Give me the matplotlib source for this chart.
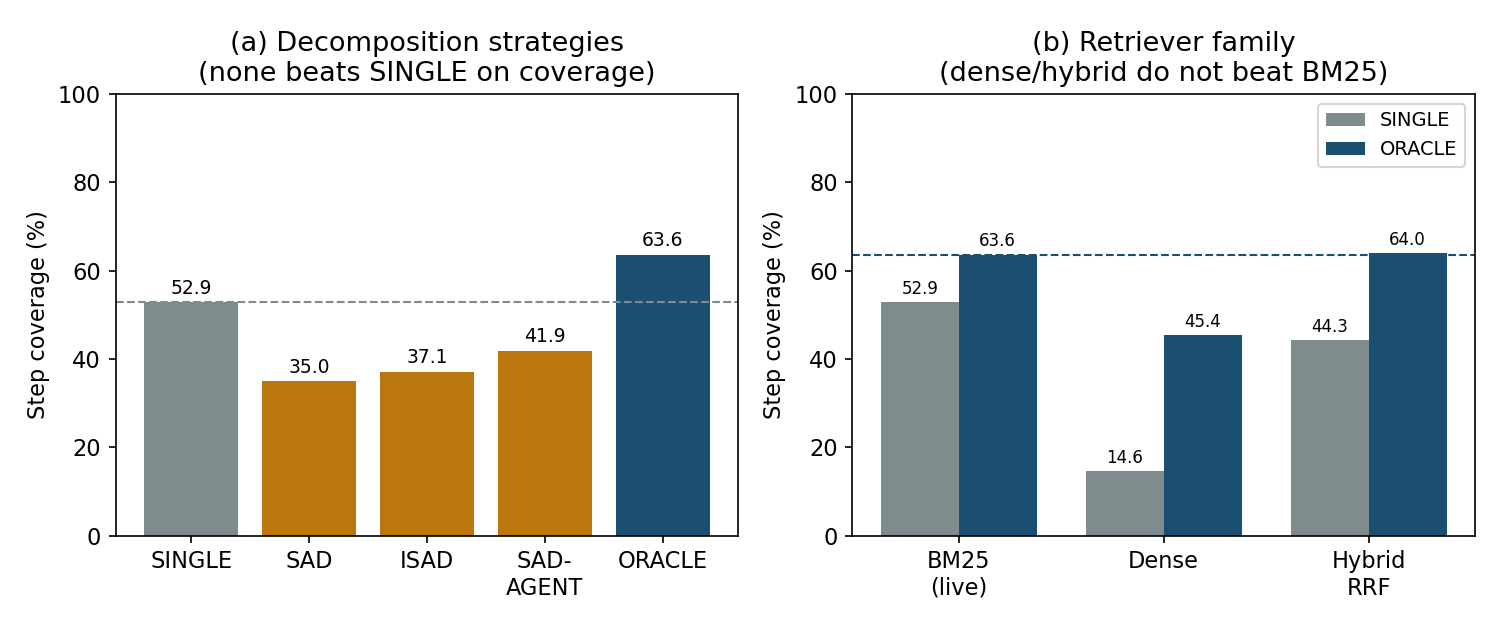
import numpy as np
import matplotlib
matplotlib.use("Agg")
import matplotlib.pyplot as plt

GREY = "#7f8c8d"
ORANGE = "#b9770e"
BLUE = "#1b4f72"

# panel (a)
strategies = ["SINGLE", "SAD", "ISAD", "SAD-\nAGENT", "ORACLE"]
strategy_cov = [52.9, 35.0, 37.1, 41.9, 63.6]
strategy_colors = [GREY, ORANGE, ORANGE, ORANGE, BLUE]

# panel (b)
retrievers = ["BM25\n(live)", "Dense", "Hybrid\nRRF"]
single_cov = [52.9, 14.6, 44.3]
oracle_cov = [63.6, 45.4, 64.0]

plt.rcParams["font.size"] = 10.8
plt.rcParams["axes.titlesize"] = 13

fig, axes = plt.subplots(1, 2, figsize=(10, 4.2), dpi=150)
fig.subplots_adjust(left=0.0771, right=0.9833, top=0.8508, bottom=0.1497,
                    wspace=0.1837)

ax = axes[0]
x = np.arange(len(strategies))
bars = ax.bar(x, strategy_cov, 0.8, color=strategy_colors)
for b, v in zip(bars, strategy_cov):
    ax.text(b.get_x() + b.get_width() / 2, v + 1, f"{v:.1f}",
            ha="center", va="bottom", fontsize=9)
ax.axhline(strategy_cov[0], color=GREY, ls="--", lw=1)
ax.set_xticks(x)
ax.set_xticklabels(strategies)
ax.set_ylim(0, 100)
ax.set_ylabel("Step coverage (%)")
ax.set_title("(a) Decomposition strategies\n(none beats SINGLE on coverage)")

ax = axes[1]
x = np.arange(len(retrievers))
w = 0.38
b1 = ax.bar(x - w / 2, single_cov, w, color=GREY, label="SINGLE")
b2 = ax.bar(x + w / 2, oracle_cov, w, color=BLUE, label="ORACLE")
for bars, vals in ((b1, single_cov), (b2, oracle_cov)):
    for b, v in zip(bars, vals):
        ax.text(b.get_x() + b.get_width() / 2, v + 1, f"{v:.1f}",
                ha="center", va="bottom", fontsize=8)
ax.axhline(oracle_cov[0], color=BLUE, ls="--", lw=1)
ax.set_xticks(x)
ax.set_xticklabels(retrievers)
ax.set_ylim(0, 100)
ax.set_ylabel("Step coverage (%)")
ax.set_title("(b) Retriever family\n(dense/hybrid do not beat BM25)")
ax.legend(fontsize=9.3, loc="upper right")

fig.savefig("out.png", dpi=150)
